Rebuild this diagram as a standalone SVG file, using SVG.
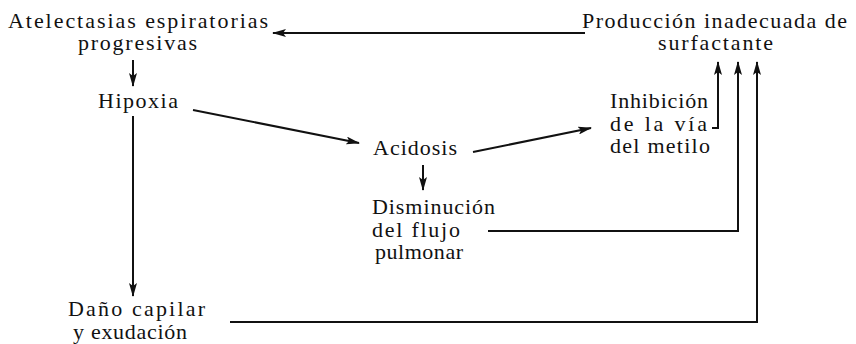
<svg xmlns="http://www.w3.org/2000/svg" width="856" height="344" viewBox="0 0 856 344">
<style>
text{font-family:"Liberation Serif","DejaVu Serif",serif;font-size:22px;fill:#111}
.ln{fill:none;stroke:#111;stroke-width:2}
</style>
<defs>
<marker id="ah" viewBox="0 0 14 8" refX="13" refY="4" markerWidth="14" markerHeight="8" markerUnits="userSpaceOnUse" orient="auto">
<path d="M0,0 L14,4 L0,8 L3,4 Z" fill="#111"/>
</marker>
</defs>
<rect width="856" height="344" fill="#fff"/>
<g id="atelectasias"><text x="8" y="28" textLength="260" lengthAdjust="spacing">Atelectasias espiratorias</text><text x="78" y="50" textLength="119" lengthAdjust="spacing">progresivas</text></g>
<g id="produccion"><text x="582" y="28" textLength="265" lengthAdjust="spacing">Producción inadecuada de</text><text x="658" y="50" textLength="115" lengthAdjust="spacing">surfactante</text></g>
<g id="hipoxia"><text x="98" y="108" textLength="80" lengthAdjust="spacing">Hipoxia</text></g>
<g id="acidosis"><text x="373" y="155" textLength="84" lengthAdjust="spacing">Acidosis</text></g>
<g id="inhibicion"><text x="610" y="108" textLength="98" lengthAdjust="spacing">Inhibición</text><text x="610" y="131" textLength="97" lengthAdjust="spacing">de la vía</text><text x="610" y="153" textLength="100" lengthAdjust="spacing">del metilo</text></g>
<g id="disminucion"><text x="372" y="214" textLength="123" lengthAdjust="spacing">Disminución</text><text x="372" y="237" textLength="88" lengthAdjust="spacing">del flujo</text><text x="375" y="259" textLength="88" lengthAdjust="spacing">pulmonar</text></g>
<g id="dano"><text x="68" y="316" textLength="137" lengthAdjust="spacing">Daño capilar</text><text x="73" y="339" textLength="114" lengthAdjust="spacing">y exudación</text></g>
<g id="connectors">
<path class="ln" d="M585,33 L273,33" marker-end="url(#ah)"/>
<path class="ln" d="M133,60 L133,86" marker-end="url(#ah)"/>
<path class="ln" d="M193,110 L359,143" marker-end="url(#ah)"/>
<path class="ln" d="M133,116 L133,296" marker-end="url(#ah)"/>
<path class="ln" d="M423,165 L423,190" marker-end="url(#ah)"/>
<path class="ln" d="M473,152 L591,128" marker-end="url(#ah)"/>
<path class="ln" d="M712,128 L718,128 L718,62" marker-end="url(#ah)"/>
<path class="ln" d="M488,231 L738,231 L738,62" marker-end="url(#ah)"/>
<path class="ln" d="M230,322 L757,322 L757,62" marker-end="url(#ah)"/>
</g>
</svg>
